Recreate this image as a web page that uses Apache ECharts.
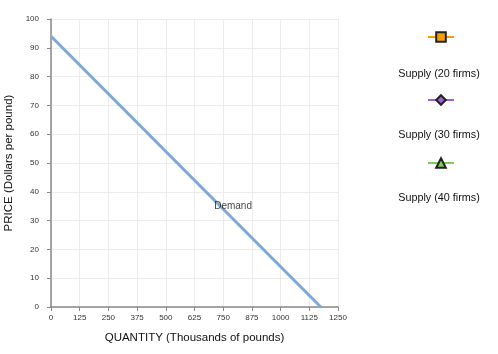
<!DOCTYPE html>
<html><head><meta charset="utf-8">
<script src="https://cdn.jsdelivr.net/npm/echarts@6/dist/echarts.min.js"></script>
<style>html,body{margin:0;padding:0;background:#fff}#c{width:498px;height:354px}</style>
</head><body><div id="c"></div>
<script>
var xTicks = [0,125,250,375,500,625,750,875,1000,1125,1250];
var yTicks = [0,10,20,30,40,50,60,70,80,90,100];
var demandPoints = [[0,94],[1175,0]];
var demandLabelPos = [[793,35]];
var supplyNames = ['Supply (20 firms)','Supply (30 firms)','Supply (40 firms)'];
var supplyColors = ['#f5a000','#a25fd6','#7ccd5e'];
var supplySymbols = ['rect','diamond','triangle'];

var font = 'Liberation Sans, Arial, sans-serif';
var chart = echarts.init(document.getElementById('c'));
var series = [{
  name:'Demand', type:'line', data:demandPoints, symbol:'none',
  lineStyle:{color:'#7ea8d6', width:3}, silent:true, z:3
},{
  name:'DemandLabel', type:'scatter', data:demandLabelPos, symbolSize:0,
  label:{show:true, position:'inside', formatter:'Demand', color:'#111', fontSize:10, fontFamily:font},
  silent:true, z:4
}];
var legends = [];
var graphics = [];
var iconTops = [31,94,157];
var textTops = [74,135,198];
for (var i=0;i<3;i++){
  series.push({name:supplyNames[i], type:'line', data:[], symbol:supplySymbols[i], symbolSize:9,
    lineStyle:{color:supplyColors[i], width:2.5},
    itemStyle:{color:supplyColors[i], borderColor:'#222', borderWidth:1.5}});
  legends.push({data:[supplyNames[i]], left:427, top:iconTops[i], itemWidth:26, itemHeight:12,
    formatter:function(){return '';}, selectedMode:false, padding:0});
  graphics.push({type:'text', x:439, y:textTops[i], style:{text:supplyNames[i], fill:'#111', font:'10.8px '+font, textAlign:'center', textVerticalAlign:'middle'}});
}
chart.setOption({
  animation:false,
  textStyle:{fontFamily:font},
  grid:{left:51, right:160, top:19, bottom:47, containLabel:false, outerBoundsMode:'none'},
  legend:legends,
  graphic:graphics,
  xAxis:{type:'value', min:0, max:1250, interval:125,
    name:'QUANTITY (Thousands of pounds)', nameLocation:'middle', nameGap:25,
    nameTextStyle:{color:'#111', fontSize:11.5, fontFamily:font},
    axisLine:{show:true, lineStyle:{color:'#888', width:1.5}},
    axisTick:{show:true, length:4, lineStyle:{color:'#888'}},
    axisLabel:{color:'#333', fontSize:8, margin:7, fontFamily:font, formatter:function(v){return String(v);}},
    splitLine:{show:true, lineStyle:{color:'#ececec'}}},
  yAxis:{type:'value', min:0, max:100, interval:10,
    name:'PRICE (Dollars per pound)', nameLocation:'middle', nameGap:31,
    nameTextStyle:{color:'#111', fontSize:11.5, fontFamily:font},
    axisLine:{show:true, lineStyle:{color:'#888', width:1.5}},
    axisTick:{show:true, length:4, lineStyle:{color:'#888'}},
    axisLabel:{color:'#333', fontSize:8, margin:12, fontFamily:font},
    splitLine:{show:true, lineStyle:{color:'#ececec'}}},
  series:series
});
</script></body></html>
